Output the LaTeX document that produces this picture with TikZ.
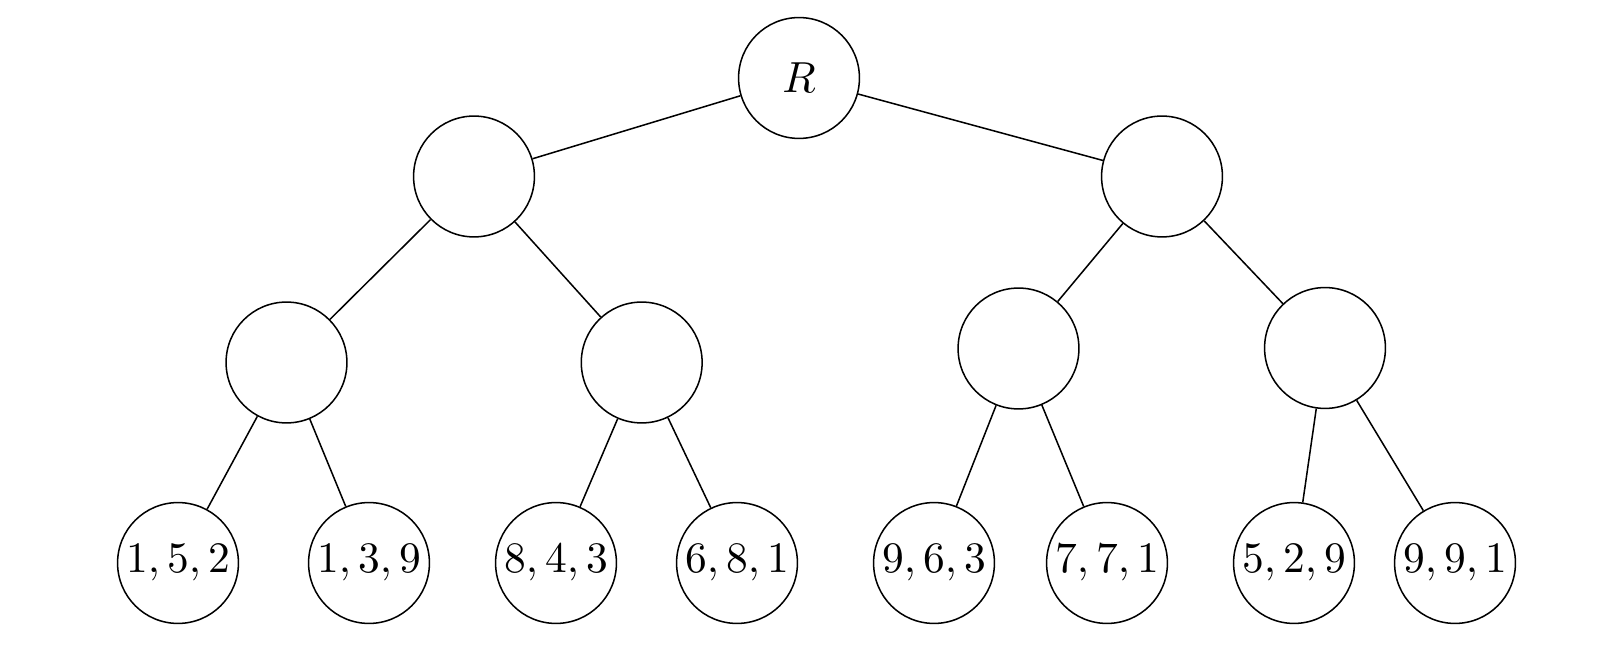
\documentclass[tikz,border=0pt]{standalone}
\begin{document}
\begin{tikzpicture}[x=0.23pt,y=-0.23pt,
  tn/.style={circle,draw,line width=0.35pt,minimum size=27.8pt,inner sep=0pt},
  edge/.style={line width=0.35pt}]
\useasboundingbox (0,0) rectangle (1618,658);
\node[tn] (r) at (799,78) {$R$};
\node[tn] (a) at (474,176.5) {};
\node[tn] (b) at (1162,176.5) {};
\node[tn] (aa) at (286.5,362.5) {};
\node[tn] (ab) at (641.7,362.5) {};
\node[tn] (ba) at (1018.5,348.5) {};
\node[tn] (bb) at (1325,348) {};
\node[tn] (l1) at (178,563) {$1,5,2$};
\node[tn] (l2) at (369,563) {$1,3,9$};
\node[tn] (l3) at (556,563) {$8,4,3$};
\node[tn] (l4) at (737,563) {$6,8,1$};
\node[tn] (l5) at (934,563) {$9,6,3$};
\node[tn] (l6) at (1107,563) {$7,7,1$};
\node[tn] (l7) at (1294,563) {$5,2,9$};
\node[tn] (l8) at (1455,563) {$9,9,1$};
\draw[edge] (r) -- (a);
\draw[edge] (r) -- (b);
\draw[edge] (a) -- (aa);
\draw[edge] (a) -- (ab);
\draw[edge] (b) -- (ba);
\draw[edge] (b) -- (bb);
\draw[edge] (aa) -- (l1);
\draw[edge] (aa) -- (l2);
\draw[edge] (ab) -- (l3);
\draw[edge] (ab) -- (l4);
\draw[edge] (ba) -- (l5);
\draw[edge] (ba) -- (l6);
\draw[edge] (bb) -- (l7);
\draw[edge] (bb) -- (l8);
\end{tikzpicture}
\end{document}
